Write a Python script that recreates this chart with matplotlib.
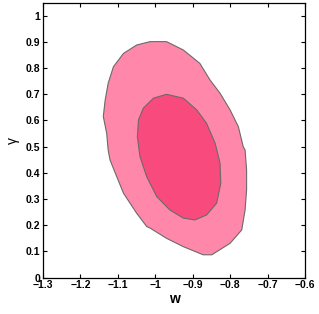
import numpy as np
import matplotlib
matplotlib.use('Agg')
import matplotlib.pyplot as plt

# contour outlines (w, gamma)
outer_w = [-1.014, -0.970, -0.925, -0.881, -0.854, -0.827, -0.800, -0.778, -0.765,
           -0.760, -0.756, -0.756, -0.760, -0.769, -0.800, -0.849, -0.872, -0.925,
           -0.970, -1.014, -1.023, -1.050, -1.085, -1.103, -1.121, -1.126, -1.130,
           -1.139, -1.134, -1.126, -1.112, -1.085, -1.050]
outer_g = [0.901, 0.901, 0.869, 0.818, 0.755, 0.704, 0.640, 0.576, 0.500, 0.487,
           0.411, 0.335, 0.258, 0.182, 0.131, 0.087, 0.087, 0.118, 0.150, 0.189,
           0.195, 0.246, 0.322, 0.385, 0.449, 0.487, 0.551, 0.615, 0.678, 0.742,
           0.805, 0.856, 0.888]

inner_w = [-0.970, -0.925, -0.889, -0.863, -0.840, -0.827, -0.825, -0.836, -0.863,
           -0.894, -0.925, -0.961, -0.996, -1.023, -1.041, -1.048, -1.045, -1.032,
           -1.005]
inner_g = [0.700, 0.685, 0.640, 0.589, 0.513, 0.437, 0.360, 0.284, 0.239, 0.220,
           0.227, 0.258, 0.309, 0.385, 0.462, 0.538, 0.602, 0.647, 0.685]

w_ticks = np.round(np.arange(-1.3, -0.55, 0.1), 1)
g_ticks = np.round(np.arange(0, 1.05, 0.1), 1)

plt.rcParams['font.family'] = ['Liberation Sans', 'DejaVu Sans']

fig = plt.figure(figsize=(3.19, 3.14), dpi=100)
ax = fig.add_axes([0.135, 0.116, 0.821, 0.874])

ax.fill(outer_w, outer_g, facecolor='#ff88aa', edgecolor='#6a6a6a', lw=0.8)
ax.fill(inner_w, inner_g, facecolor='#f84a7c', edgecolor='#6a6a6a', lw=0.8)

ax.set_xlim(-1.3, -0.6)
ax.set_ylim(0, 1.048)
ax.set_xticks(w_ticks)
ax.set_yticks(g_ticks)
ax.xaxis.set_major_formatter(matplotlib.ticker.FuncFormatter(lambda v, p: ('%g' % round(v, 1)).replace('-', '\u2212')))
ax.yaxis.set_major_formatter(matplotlib.ticker.FuncFormatter(lambda v, p: '%g' % round(v, 1)))
ax.tick_params(direction='in', length=3, width=0.8, top=True, right=True,
               labelsize=7.5, pad=2)
for lab in ax.get_xticklabels() + ax.get_yticklabels():
    lab.set_fontweight('bold')
for s in ax.spines.values():
    s.set_linewidth(0.9)

ax.set_xlabel('w', fontsize=10, fontweight='bold', labelpad=1)
ax.set_ylabel('\u03b3', fontsize=10, labelpad=4)

fig.savefig('out.png', dpi=100)
